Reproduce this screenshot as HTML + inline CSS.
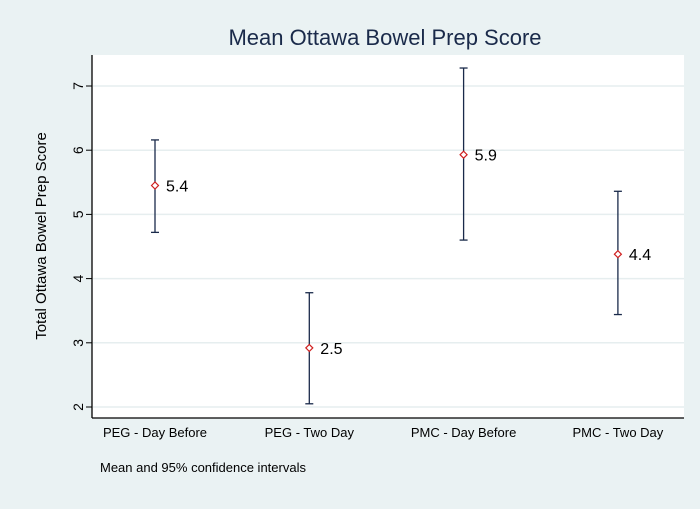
<!DOCTYPE html>
<html><head><meta charset="utf-8"><style>
body{margin:0;background:#eaf2f3;}
svg{display:block;font-family:"Liberation Sans",Arial,sans-serif;}
</style></head><body>
<svg width="700" height="509">
<rect x="0" y="0" width="700" height="509" fill="#eaf2f3"/>
<rect x="92" y="55" width="592" height="363" fill="#ffffff"/>
<text x="385" y="45" text-anchor="middle" font-size="22" fill="#1a2a4a">Mean Ottawa Bowel Prep Score</text>
<text x="46" y="236" text-anchor="middle" font-size="15" fill="#000" transform="rotate(-90 46 236)">Total Ottawa Bowel Prep Score</text>
<text x="100" y="472" font-size="13" fill="#000">Mean and 95% confidence intervals</text>
<g id="grid"></g><g id="axes"></g><g id="marks"></g>
</svg>
<script>
const categories=["PEG - Day Before","PEG - Two Day","PMC - Day Before","PMC - Two Day"];
const means=[5.45,2.92,5.93,4.38];
const lower=[4.72,2.05,4.6,3.44];
const upper=[6.16,3.78,7.28,5.36];
const valueLabels=["5.4","2.5","5.9","4.4"];
const yTicks=[2,3,4,5,6,7];
const NS="http://www.w3.org/2000/svg";
function y(v){return 407-(v-2)*64.2;}
function x(i){return 155+i*154.3;}
function mk(tag,attrs,parent){const e=document.createElementNS(NS,tag);for(const k in attrs)e.setAttribute(k,attrs[k]);parent.appendChild(e);return e;}
const grid=document.getElementById('grid'),axes=document.getElementById('axes'),marks=document.getElementById('marks');
yTicks.forEach(t=>{
 const g=mk('line',{x1:93,x2:684,y1:y(t),y2:y(t),stroke:'#e6eeef','stroke-width':1.5},grid);
 
 
 const tk=mk('line',{x1:86,x2:92,y1:y(t),y2:y(t),stroke:'#000'},axes);
 
 
 const tx=mk('text',{x:0,y:0,'font-size':14,'text-anchor':'middle',transform:`translate(78 ${y(t)}) rotate(-90)`,dy:'5'},axes);
 tx.textContent=t;
 
 
});
const ya=mk('line',{x1:92,x2:92,y1:55,y2:418,stroke:'#000','stroke-width':1.3},axes);


const xa=mk('line',{x1:92,x2:684,y1:418,y2:418,stroke:'#000','stroke-width':1.3},axes);


categories.forEach((c,i)=>{
 const t=mk('text',{x:x(i),y:437,'font-size':13,'text-anchor':'middle'},axes);
 t.textContent=c;
 
 
 const g=mk('g',{},marks);
 
 
 const st={stroke:'#1a2a4a','stroke-width':1.3};
 mk('line',Object.assign({x1:x(i),x2:x(i),y1:y(upper[i]),y2:y(lower[i])},st),g);
 mk('line',Object.assign({x1:x(i)-4,x2:x(i)+4,y1:y(upper[i]),y2:y(upper[i])},st),g);
 mk('line',Object.assign({x1:x(i)-4,x2:x(i)+4,y1:y(lower[i]),y2:y(lower[i])},st),g);
 const cx=x(i),cy=y(means[i]);
 const d=mk('path',{d:`M${cx-3.5} ${cy}L${cx} ${cy-3.5}L${cx+3.5} ${cy}L${cx} ${cy+3.5}Z`,fill:'#fff',stroke:'#d02020','stroke-width':1.2},g);
 
 
 const l=mk('text',{x:cx+11,y:cy+6,'font-size':16},g);
 l.textContent=valueLabels[i];
 
 
});
</script>
</body></html>
